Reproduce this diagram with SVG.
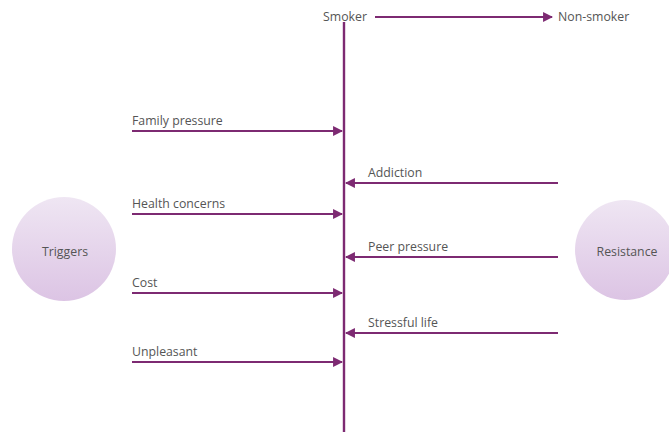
<svg xmlns="http://www.w3.org/2000/svg" width="669" height="434" viewBox="0 0 669 434">
  <style>
    .lbl { font-family: "Open Sans", "Noto Sans", sans-serif; font-size: 12.3px; fill: #555555; }
    .ctr { text-anchor: middle; }
    .link { stroke: #7d2a72; stroke-width: 2.2; fill: none; }
    .axis { stroke: #7d2a72; stroke-width: 2.4; fill: none; }
    .ball { fill: url(#ballFill); }
  </style>
  <defs>
    <marker id="head" viewBox="0 0 10 10" refX="9" refY="5" markerWidth="4.5" markerHeight="4.5" markerUnits="strokeWidth" orient="auto">
      <path d="M0,0 L10,5 L0,10 z" fill="#7d2a72"/>
    </marker>
    <linearGradient id="ballFill" x1="0" y1="0" x2="0" y2="1">
      <stop offset="0" stop-color="#efe6f3"/>
      <stop offset="1" stop-color="#dcc4e4"/>
    </linearGradient>
  </defs>

  <rect width="669" height="434" fill="#ffffff"/>

  <g id="connectors">
    <line class="axis" x1="344" y1="22" x2="344" y2="432"/>
    <line class="link" x1="375" y1="17" x2="552" y2="17" marker-end="url(#head)"/>
    <line class="link" x1="132" y1="131" x2="342" y2="131" marker-end="url(#head)"/>
    <line class="link" x1="132" y1="214" x2="342" y2="214" marker-end="url(#head)"/>
    <line class="link" x1="132" y1="293" x2="342" y2="293" marker-end="url(#head)"/>
    <line class="link" x1="132" y1="362" x2="342" y2="362" marker-end="url(#head)"/>
    <line class="link" x1="558" y1="183" x2="346" y2="183" marker-end="url(#head)"/>
    <line class="link" x1="558" y1="257" x2="346" y2="257" marker-end="url(#head)"/>
    <line class="link" x1="558" y1="333" x2="346" y2="333" marker-end="url(#head)"/>
  </g>

  <g id="smoker"><text class="lbl ctr" x="345" y="21">Smoker</text></g>
  <g id="non-smoker"><text class="lbl" x="558" y="21">Non-smoker</text></g>

  <g id="triggers">
    <circle class="ball" cx="64" cy="249" r="52"/>
    <text class="lbl ctr" x="65" y="256">Triggers</text>
  </g>
  <g id="resistance">
    <circle class="ball" cx="625" cy="250" r="50"/>
    <text class="lbl ctr" x="627" y="256">Resistance</text>
  </g>

  <g id="family-pressure"><text class="lbl" x="132" y="125">Family pressure</text></g>
  <g id="health-concerns"><text class="lbl" x="132" y="208">Health concerns</text></g>
  <g id="cost"><text class="lbl" x="132" y="287">Cost</text></g>
  <g id="unpleasant"><text class="lbl" x="132" y="356">Unpleasant</text></g>
  <g id="addiction"><text class="lbl" x="368" y="177">Addiction</text></g>
  <g id="peer-pressure"><text class="lbl" x="368" y="251">Peer pressure</text></g>
  <g id="stressful-life"><text class="lbl" x="368" y="327">Stressful life</text></g>
</svg>
